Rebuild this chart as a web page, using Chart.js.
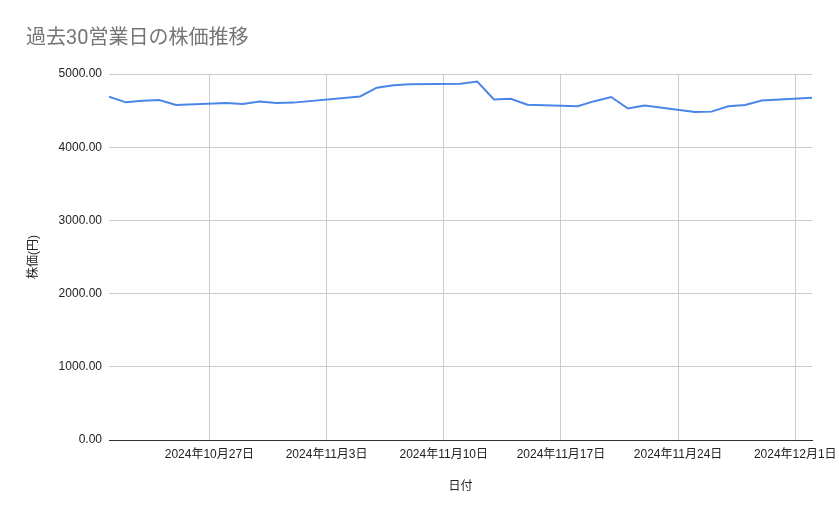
<!DOCTYPE html>
<html>
<head>
<meta charset="utf-8">
<script src="https://cdn.jsdelivr.net/npm/chart.js@4.4.1/dist/chart.umd.min.js"></script>
<style>
  html, body { margin: 0; padding: 0; background: #fff; }
  #wrap { width: 839px; height: 519px; }
</style>
</head>
<body>
<div id="wrap"><canvas id="c" width="839" height="519"></canvas></div>
<script>
// ---- data ----
const chartTitle = '過去30営業日の株価推移';
const xTitle = '日付';
const yTitle = '株価(円)';
const dates = [
  '2024-10-21','2024-10-22','2024-10-23','2024-10-24','2024-10-25',
  '2024-10-28','2024-10-29','2024-10-30','2024-10-31','2024-11-01',
  '2024-11-05','2024-11-06','2024-11-07','2024-11-08',
  '2024-11-11','2024-11-12','2024-11-13','2024-11-14','2024-11-15',
  '2024-11-18','2024-11-19','2024-11-20','2024-11-21','2024-11-22',
  '2024-11-25','2024-11-26','2024-11-27','2024-11-28','2024-11-29',
  '2024-12-02'
];
const prices = [
  4690, 4613, 4635, 4645, 4576,
  4603, 4591, 4624, 4604, 4609,
  4693, 4813, 4846, 4860,
  4867, 4897, 4653, 4661, 4580,
  4561, 4629, 4686, 4528, 4571,
  4481, 4486, 4560, 4578, 4639,
  4676
];
const tickDates = ['2024-10-27','2024-11-03','2024-11-10','2024-11-17','2024-11-24','2024-12-01'];
const yTicks = [0, 1000, 2000, 3000, 4000, 5000];
const rangeStart = '2024-10-21';
const rangeEnd = '2024-12-02';

// ---- helpers ----
const DAY = 86400000;
function dayNum(s) { const [y, m, d] = s.split('-').map(Number); return Date.UTC(y, m - 1, d) / DAY; }
const base = dayNum(rangeStart);
function off(s) { return dayNum(s) - base; }
function fmtDate(v) {
  const dt = new Date((base + v) * DAY);
  return dt.getUTCFullYear() + '年' + (dt.getUTCMonth() + 1) + '月' + dt.getUTCDate() + '日';
}

const FONT = "'Liberation Sans', 'Noto Sans CJK JP', sans-serif";

new Chart(document.getElementById('c'), {
  type: 'line',
  data: {
    datasets: [{
      data: dates.map((d, i) => ({ x: off(d), y: prices[i] })),
      borderColor: '#4a86e8',
      borderWidth: 2,
      pointRadius: 0,
      tension: 0,
      fill: false
    }]
  },
  options: {
    responsive: false,
    animation: false,
    devicePixelRatio: 1,
    layout: { padding: { left: 26, right: 27, top: 27, bottom: 0 } },
    plugins: {
      legend: { display: false },
      tooltip: { enabled: false },
      title: {
        display: true,
        text: chartTitle,
        align: 'start',
        color: '#757575',
        font: { family: "Roboto, 'Noto Sans CJK JP', sans-serif", size: 20, weight: 'normal' },
        padding: { top: 0, bottom: 23 }
      }
    },
    scales: {
      x: {
        type: 'linear',
        min: off(rangeStart),
        max: off(rangeEnd),
        afterBuildTicks(s) { s.ticks = tickDates.map(d => ({ value: off(d) })); },
        afterFit(s) { s.height = 79; s.paddingLeft = 0; s.paddingRight = 0; },
        ticks: {
          autoSkip: false,
          maxRotation: 0,
          padding: 7,
          color: '#222',
          font: { family: FONT, size: 12 },
          callback: v => fmtDate(v)
        },
        grid: { color: '#cccccc', drawTicks: false, lineWidth: 1 },
        border: { display: true, color: '#333333', width: 1 },
        title: {
          display: true,
          text: xTitle,
          color: '#222',
          font: { family: FONT, size: 12 },
          padding: { top: 0, bottom: 25 }
        }
      },
      y: {
        min: 0,
        max: 5000,
        afterBuildTicks(s) { s.ticks = yTicks.map(v => ({ value: v })); },
        afterFit(s) { s.width = 83; s.paddingTop = 0; s.paddingBottom = 0; },
        ticks: {
          padding: 7,
          color: '#222',
          font: { family: FONT, size: 12 },
          callback: v => Number(v).toFixed(2)
        },
        grid: {
          color: ctx => (ctx.tick && ctx.tick.value === 0 ? '#333333' : '#cccccc'),
          drawTicks: false,
          lineWidth: 1
        },
        border: { display: false },
        title: {
          display: true,
          text: yTitle,
          color: '#222',
          font: { family: FONT, size: 12 },
          padding: { top: 0, bottom: 0 }
        }
      }
    }
  }
});
</script>
</body>
</html>
